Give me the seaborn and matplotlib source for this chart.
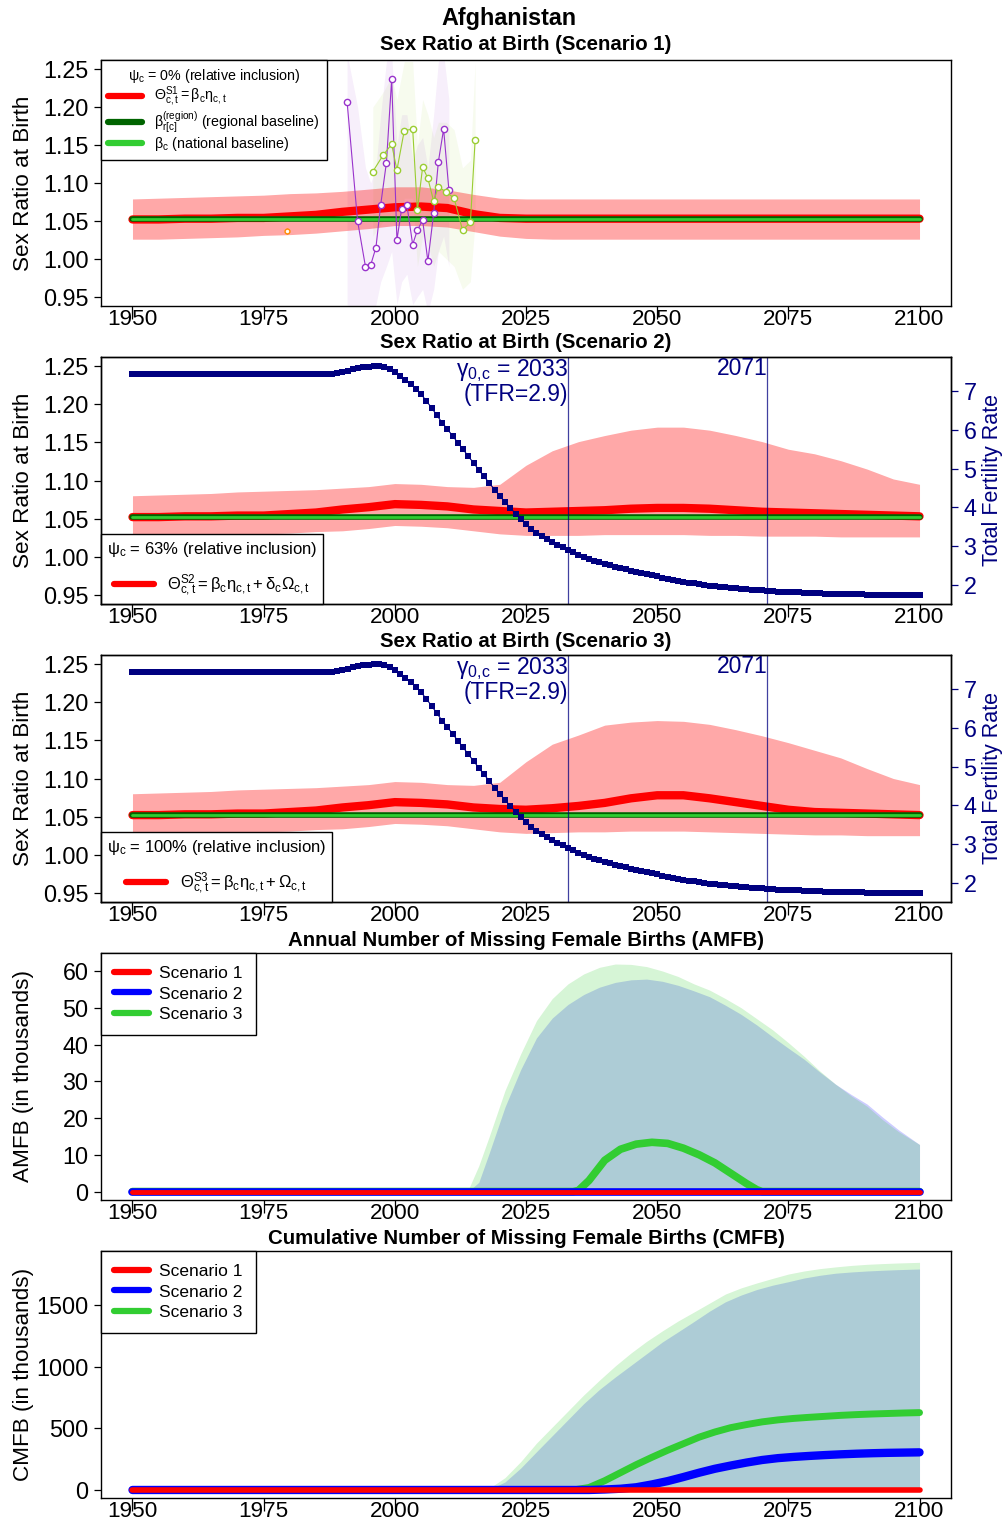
import numpy as np
import pandas as pd
import matplotlib
matplotlib.use("Agg")
import matplotlib.pyplot as plt
import seaborn as sns
from matplotlib.lines import Line2D

# ---------------------------------------------------------------- data
country = "Afghanistan"
xticks = [1950, 1975, 2000, 2025, 2050, 2075, 2100]

yrs5 = list(range(1950, 2101, 5))

# Scenario 1 SRB (median, 95% bounds)
s1_med = [1.052, 1.052, 1.053, 1.053, 1.054, 1.054, 1.056, 1.058, 1.062, 1.065, 1.068,
          1.069, 1.067, 1.059, 1.054, 1.053, 1.053, 1.053, 1.053, 1.053, 1.053, 1.053,
          1.053, 1.053, 1.053, 1.053, 1.053, 1.053, 1.053, 1.053, 1.053]
s1_lo = [1.026, 1.026, 1.027, 1.028, 1.029, 1.031, 1.032, 1.034, 1.037, 1.040, 1.044,
         1.044, 1.042, 1.036, 1.030, 1.027, 1.026, 1.026, 1.026, 1.026, 1.026, 1.026,
         1.026, 1.026, 1.026, 1.026, 1.026, 1.026, 1.026, 1.026, 1.026]
s1_hi = [1.079, 1.080, 1.081, 1.082, 1.083, 1.084, 1.086, 1.087, 1.089, 1.092, 1.095,
         1.095, 1.091, 1.085, 1.080, 1.079, 1.079, 1.079, 1.079, 1.079, 1.079, 1.079,
         1.079, 1.079, 1.079, 1.079, 1.079, 1.079, 1.079, 1.079, 1.079]

# Scenario 2 SRB
s2_med = [1.052, 1.052, 1.053, 1.053, 1.054, 1.054, 1.056, 1.058, 1.062, 1.065, 1.069,
          1.068, 1.066, 1.062, 1.060, 1.058, 1.059, 1.060, 1.061, 1.063, 1.064, 1.064,
          1.063, 1.061, 1.059, 1.058, 1.057, 1.056, 1.055, 1.054, 1.053]
s2_lo = [1.026, 1.026, 1.027, 1.028, 1.029, 1.030, 1.031, 1.033, 1.034, 1.037, 1.041,
         1.040, 1.038, 1.034, 1.030, 1.028, 1.028, 1.028, 1.029, 1.029, 1.029, 1.029,
         1.028, 1.028, 1.027, 1.027, 1.027, 1.026, 1.026, 1.026, 1.026]
s2_hi = [1.080, 1.081, 1.082, 1.083, 1.085, 1.086, 1.087, 1.088, 1.090, 1.092, 1.096,
         1.095, 1.092, 1.091, 1.095, 1.120, 1.139, 1.151, 1.159, 1.166, 1.170, 1.170,
         1.166, 1.159, 1.151, 1.141, 1.135, 1.126, 1.115, 1.102, 1.095]

# Scenario 3 SRB
s3_med = [1.052, 1.052, 1.053, 1.053, 1.054, 1.054, 1.056, 1.058, 1.062, 1.065, 1.069,
          1.068, 1.066, 1.062, 1.060, 1.059, 1.061, 1.064, 1.068, 1.074, 1.078, 1.078,
          1.074, 1.069, 1.064, 1.059, 1.056, 1.055, 1.054, 1.053, 1.052]
s3_lo = [1.026, 1.026, 1.027, 1.028, 1.029, 1.030, 1.031, 1.033, 1.034, 1.037, 1.041,
         1.040, 1.038, 1.034, 1.030, 1.028, 1.029, 1.030, 1.030, 1.031, 1.031, 1.031,
         1.030, 1.029, 1.028, 1.027, 1.026, 1.026, 1.025, 1.025, 1.025]
s3_hi = [1.080, 1.081, 1.082, 1.083, 1.085, 1.086, 1.087, 1.088, 1.090, 1.092, 1.096,
         1.095, 1.092, 1.091, 1.095, 1.122, 1.145, 1.157, 1.170, 1.174, 1.176, 1.175,
         1.171, 1.164, 1.156, 1.147, 1.137, 1.127, 1.113, 1.100, 1.092]

beta_region = 1.0525
beta_national = 1.0525

# observed SRB series (survey data)
obs1_years = [1990.9, 1992.9, 1994.4, 1995.4, 1996.4, 1997.3, 1998.4, 1999.4, 2000.4, 2001.3,
              2002.3, 2003.4, 2004.3, 2005.3, 2006.3, 2007.4, 2008.3, 2009.3, 2010.3]
obs1_srb = [1.207, 1.050, 0.990, 0.992, 1.015, 1.071, 1.127, 1.237, 1.025, 1.066,
            1.071, 1.019, 1.038, 1.051, 0.997, 1.060, 1.128, 1.171, 1.091]
obs1_lo = [0.94, 0.93, 0.93, 0.93, 0.94, 0.97, 0.99, 1.01, 0.94, 0.97,
           0.98, 0.94, 0.95, 0.96, 0.93, 0.96, 1.01, 1.03, 0.99]
obs1_hi = [1.27, 1.20, 1.12, 1.10, 1.12, 1.19, 1.26, 1.27, 1.15, 1.19,
           1.19, 1.13, 1.15, 1.16, 1.12, 1.19, 1.26, 1.27, 1.21]

obs2_years = [1995.8, 1997.8, 1999.4, 2000.4, 2001.8, 2003.4, 2004.3, 2005.3, 2006.3, 2007.4,
              2008.3, 2009.8, 2011.3, 2012.9, 2014.4, 2015.3]
obs2_srb = [1.115, 1.137, 1.151, 1.117, 1.169, 1.171, 1.064, 1.121, 1.106, 1.076,
            1.095, 1.088, 1.080, 1.038, 1.048, 1.156]
obs2_lo = [1.03, 1.05, 1.06, 1.03, 1.08, 1.08, 0.99, 1.03, 1.02, 0.99,
           1.01, 1.00, 0.99, 0.96, 0.97, 1.05]
obs2_hi = [1.20, 1.22, 1.24, 1.21, 1.26, 1.26, 1.15, 1.21, 1.19, 1.16,
           1.18, 1.18, 1.17, 1.12, 1.13, 1.26]

obs3_year = [1979.4]
obs3_srb = [1.037]
obs3_err = [0.004]

# Total fertility rate, annual 1950-2100
tfr_years = list(range(1950, 2101))
tfr = ([7.45] * 39 + [7.48] +
       [7.50, 7.53, 7.56, 7.59, 7.61, 7.63, 7.64, 7.64, 7.61, 7.56] +
       [7.49, 7.40, 7.29, 7.18, 7.06, 6.92, 6.75, 6.57, 6.38, 6.19] +
       [6.02, 5.85, 5.67, 5.50, 5.32, 5.15, 4.97, 4.80, 4.63, 4.46] +
       [4.30, 4.14, 3.99, 3.84, 3.70, 3.57, 3.45, 3.35, 3.26, 3.18] +
       [3.11, 3.04, 2.97, 2.90, 2.84, 2.78, 2.73, 2.68, 2.63, 2.59] +
       [2.55, 2.51, 2.47, 2.44, 2.40, 2.37, 2.34, 2.31, 2.28, 2.25] +
       [2.22, 2.19, 2.16, 2.13, 2.10, 2.08, 2.06, 2.04, 2.02, 2.00] +
       [1.98, 1.97, 1.95, 1.94, 1.92, 1.91, 1.90, 1.89, 1.88, 1.87] +
       [1.86, 1.85, 1.84, 1.83, 1.83, 1.82, 1.81, 1.81, 1.80, 1.80] +
       [1.79, 1.79, 1.78, 1.78, 1.77, 1.77, 1.77, 1.76, 1.76, 1.76] +
       [1.75, 1.75, 1.75, 1.75, 1.75, 1.74, 1.74, 1.74, 1.74, 1.74] +
       [1.74])
gamma_year = 2033
gamma_tfr = 2.9
end_year = 2071

# AMFB (thousands)
amfb_years = [1950, 2014, 2016, 2018, 2021, 2024, 2027, 2030, 2033, 2036, 2039, 2042, 2045,
              2048, 2051, 2054, 2057, 2060, 2063, 2066, 2069, 2072, 2075, 2078, 2081, 2084,
              2087, 2090, 2093, 2096, 2100]
amfb_s3_hi = [0, 0.5, 7.0, 15.0, 27.5, 37.5, 46.5, 52.5, 56.5, 59.2, 61.0, 61.9, 61.8,
              61.2, 60.0, 58.5, 56.5, 54.8, 52.5, 50.0, 47.0, 44.0, 40.5, 36.8, 32.8, 29.2,
              26.0, 23.2, 19.5, 16.3, 12.8]
amfb_s2_hi = [0, 0, 2.5, 10.5, 23.0, 33.2, 41.8, 47.2, 50.9, 53.6, 55.6, 56.9, 57.6,
              57.8, 57.2, 56.1, 54.6, 53.0, 50.7, 48.2, 45.3, 42.1, 39.0, 36.0, 32.5, 29.2,
              26.4, 23.8, 20.2, 16.8, 12.8]
amfb_s3_years = [1950, 2034, 2035, 2037, 2040, 2043, 2046, 2049, 2052, 2055, 2058, 2061,
                 2064, 2067, 2069, 2070, 2100]
amfb_s3_med = [0, 0, 0.3, 3.0, 8.5, 11.5, 12.9, 13.4, 13.1, 11.8, 10.0, 7.8, 5.0, 2.2, 0.5, 0, 0]
amfb_s12_years = [1950, 2100]
amfb_s1_med = [0, 0]
amfb_s2_med = [0, 0]

# CMFB (thousands)
cmfb_years = [1950, 2016, 2018, 2021, 2024, 2027, 2030, 2033, 2036, 2039, 2042, 2045, 2048,
              2051, 2054, 2057, 2060, 2063, 2066, 2069, 2072, 2075, 2078, 2081, 2084, 2087,
              2090, 2093, 2096, 2100]
cmfb_s3_hi = [0, 2, 14, 100, 230, 380, 510, 640, 770, 890, 1005, 1110, 1205, 1290, 1370,
              1442, 1515, 1588, 1638, 1678, 1715, 1750, 1775, 1794, 1808, 1820, 1829, 1835,
              1840, 1845]
cmfb_s2_hi = [0, 0, 5, 65, 178, 310, 440, 570, 700, 815, 915, 1010, 1105, 1200, 1282, 1365,
              1450, 1525, 1580, 1625, 1660, 1688, 1718, 1740, 1757, 1767, 1775, 1781, 1786,
              1791]
cmfb_med_years = [1950, 2034, 2037, 2040, 2043, 2046, 2049, 2052, 2055, 2058, 2061, 2064,
                  2067, 2070, 2073, 2076, 2079, 2082, 2085, 2088, 2091, 2094, 2097, 2100]
cmfb_s3_med = [0, 0, 20, 75, 140, 205, 265, 322, 375, 428, 470, 505, 530, 552, 568, 580, 589,
               597, 605, 611, 616, 620, 624, 627]
cmfb_s2_med = [0, 0, 0, 4, 10, 22, 45, 72, 105, 140, 172, 198, 222, 243, 258, 268, 276, 283,
               289, 294, 298, 301, 303, 305]
cmfb_s1_med = [0] * len(cmfb_med_years)

# ---------------------------------------------------------------- style
sns.set_theme(style="ticks")
plt.rcParams["font.family"] = ["Liberation Sans", "DejaVu Sans"]
plt.rcParams["mathtext.fontset"] = "custom"
plt.rcParams["mathtext.rm"] = "Liberation Sans"
plt.rcParams["mathtext.it"] = "Liberation Sans:italic"
plt.rcParams["mathtext.bf"] = "Liberation Sans:bold"
plt.rcParams["mathtext.default"] = "regular"
plt.rcParams["axes.edgecolor"] = "black"
plt.rcParams["text.color"] = "black"
plt.rcParams["axes.labelcolor"] = "black"
plt.rcParams["xtick.color"] = "black"
plt.rcParams["ytick.color"] = "black"

W, H = 1008, 1524
fig = plt.figure(figsize=(W / 100, H / 100), dpi=100)


def make_axes(top, bottom):
    return fig.add_axes([101 / W, 1 - bottom / H, 850 / W, (bottom - top) / H])


def style(ax, ylabel):
    ax.set_xlim(1944, 2106)
    ax.set_xticks(xticks)
    ax.set_xticklabels([str(t) for t in xticks])
    ax.tick_params(axis="x", direction="out", length=9, width=0.9, pad=-6.5,
                   labelsize=16.2, colors="black")
    ax.tick_params(axis="y", direction="out", length=5, width=0.9, pad=4,
                   labelsize=16.8, colors="black")
    for s in ax.spines.values():
        s.set_visible(True)
        s.set_color("black")
        s.set_linewidth(1.0)
    ax.set_ylabel(ylabel, fontsize=16.2, color="black")
    ax.yaxis.set_label_coords(-0.079, 0.5)
    ax.set_xlabel("")


def panel_title(y, text):
    fig.text(526 / W, 1 - y / H, text, ha="center", va="center",
             fontsize=14.7, fontweight="bold", color="black")


fig.text(509 / W, 1 - 18 / H, country, ha="center", va="center",
         fontsize=16.8, fontweight="bold", color="black")

RED_BAND = dict(color="red", alpha=0.34, lw=0)


def srb_panel(ax, med, lo, hi):
    ax.fill_between(yrs5, lo, hi, **RED_BAND)
    sns.lineplot(x=yrs5, y=med, ax=ax, color="red", lw=6, solid_capstyle="round")
    sns.lineplot(x=[1950, 2100], y=[beta_region, beta_region], ax=ax, color="darkgreen",
                 lw=4, solid_capstyle="round")
    sns.lineplot(x=[1950, 2100], y=[beta_national, beta_national], ax=ax,
                 color="limegreen", lw=2, solid_capstyle="round")
    ax.set_ylim(0.938, 1.262)
    ax.set_yticks([0.95, 1.00, 1.05, 1.10, 1.15, 1.20, 1.25])
    ax.set_yticklabels(["0.95", "1.00", "1.05", "1.10", "1.15", "1.20", "1.25"])


leg_kw = dict(borderaxespad=0, frameon=True, fancybox=False, edgecolor="black",
              framealpha=1)

# ---------------- panel 1
ax1 = make_axes(60, 306)
PURPLE, YG = "#9933CC", "#9ACD32"
ax1.fill_between(obs1_years, obs1_lo, obs1_hi, color=PURPLE, alpha=0.08, lw=0)
ax1.fill_between(obs2_years, obs2_lo, obs2_hi, color=YG, alpha=0.08, lw=0)
srb_panel(ax1, s1_med, s1_lo, s1_hi)
sns.lineplot(x=obs1_years, y=obs1_srb, ax=ax1, color=PURPLE, lw=0.8, marker="o",
             markersize=4.5, markerfacecolor="white", markeredgecolor=PURPLE,
             markeredgewidth=1)
sns.lineplot(x=obs2_years, y=obs2_srb, ax=ax1, color=YG, lw=0.8, marker="o",
             markersize=4.5, markerfacecolor="white", markeredgecolor=YG,
             markeredgewidth=1)
ax1.errorbar(obs3_year, obs3_srb, yerr=obs3_err, fmt="o", ms=3.5, color="darkorange",
             mfc="white", mew=1, elinewidth=0.8)
style(ax1, "Sex Ratio at Birth")
h1 = [Line2D([], [], color="red", lw=4.5),
      Line2D([], [], color="darkgreen", lw=4.5),
      Line2D([], [], color="limegreen", lw=4.5)]
l1 = [r"$\Theta^{S1}_{c,t} = \beta_c\eta_{c,t}$",
      r"$\beta^{(region)}_{r[c]}$ (regional baseline)",
      r"$\beta_c$ (national baseline)"]
ax1.legend(h1, l1, title=r"$\psi_c$ = 0% (relative inclusion)", loc="upper left",
           handlelength=2.4, labelspacing=0.0, fontsize=10.3, title_fontsize=10.3,
           borderpad=0.5, **leg_kw)
panel_title(45, "Sex Ratio at Birth (Scenario 1)")


# ---------------- panels 2, 3
def tfr_panel(ax, med, lo, hi, psi, formula):
    srb_panel(ax, med, lo, hi)
    style(ax, "Sex Ratio at Birth")
    ax.axvline(gamma_year, color="navy", lw=0.9, alpha=0.75)
    ax.axvline(end_year, color="navy", lw=0.9, alpha=0.75)
    tr = ax.get_xaxis_transform()
    ax.text(gamma_year, 1.0, r"$\gamma_{0,\!c}$ = %d" % gamma_year + "\n(TFR=%.1f)" % gamma_tfr,
            transform=tr, ha="right", va="top", color="navy", fontsize=16.5,
            linespacing=0.95, multialignment="right")
    ax.text(end_year, 1.0, "%d" % end_year, transform=tr, ha="right", va="top",
            color="navy", fontsize=16.5)
    tw = ax.twinx()
    sns.lineplot(x=tfr_years, y=tfr, ax=tw, color="navy", lw=0.8, marker="s",
                 markersize=3.8, markeredgewidth=0, markerfacecolor="navy")
    tw.set_ylim(1.51, 7.88)
    tw.set_yticks([2, 3, 4, 5, 6, 7])
    tw.set_yticklabels(["2", "3", "4", "5", "6", "7"])
    tw.tick_params(axis="y", direction="out", length=5, width=0.9, pad=4, labelsize=16.8,
                   colors="navy")
    tw.set_ylabel("Total Fertility Rate", fontsize=15.5, color="navy")
    tw.yaxis.set_label_coords(1.036, 0.5)
    for s in tw.spines.values():
        s.set_color("black")
        s.set_linewidth(1.0)
    leg = ax.legend([Line2D([], [], color="red", lw=4.5)], [formula],
                    title=r"$\psi_c$ = %s (relative inclusion)" % psi, loc="lower left",
                    handlelength=2.4, fontsize=12.0, title_fontsize=12.0, borderpad=0.35,
                    labelspacing=0.8, **leg_kw)
    leg.set_zorder(10)
    return tw


ax2 = make_axes(357, 604)
tw2 = tfr_panel(ax2, s2_med, s2_lo, s2_hi, "63%",
                r"$\Theta^{S2}_{c,t} = \beta_c\eta_{c,t} + \delta_c\Omega_{c,t}$")
panel_title(343, "Sex Ratio at Birth (Scenario 2)")

ax3 = make_axes(655, 902)
tw3 = tfr_panel(ax3, s3_med, s3_lo, s3_hi, "100%",
                r"$\Theta^{S3}_{c,t} = \beta_c\eta_{c,t} + \Omega_{c,t}$")
panel_title(641, "Sex Ratio at Birth (Scenario 3)")

# ---------------- panel 4 (AMFB)
scen_handles = [Line2D([], [], color="red", lw=4.5),
                Line2D([], [], color="blue", lw=4.5),
                Line2D([], [], color="limegreen", lw=4.5)]
scen_labels = ["Scenario 1", "Scenario 2", "Scenario 3"]
scen_leg = dict(loc="upper left", handlelength=2.0, handletextpad=0.6, labelspacing=0.3,
                borderpad=0.75, fontsize=12.5, **leg_kw)

ax4 = make_axes(953, 1200)
ax4.fill_between(amfb_years, 0, amfb_s2_hi, color="blue", alpha=0.2, lw=0)
ax4.fill_between(amfb_years, 0, amfb_s3_hi, color="limegreen", alpha=0.2, lw=0)
sns.lineplot(x=amfb_s3_years, y=amfb_s3_med, ax=ax4, color="limegreen", lw=5.5,
             solid_capstyle="round")
sns.lineplot(x=amfb_s12_years, y=amfb_s2_med, ax=ax4, color="blue", lw=5.5,
             solid_capstyle="round")
sns.lineplot(x=amfb_s12_years, y=amfb_s1_med, ax=ax4, color="red", lw=3.5,
             solid_capstyle="round")
ax4.set_ylim(-2.3, 64.9)
ax4.set_yticks([0, 10, 20, 30, 40, 50, 60])
style(ax4, "AMFB (in thousands)")
ax4.legend(scen_handles, scen_labels, **scen_leg)
panel_title(940, "Annual Number of Missing Female Births (AMFB)")

# ---------------- panel 5 (CMFB)
ax5 = make_axes(1251, 1498)
ax5.fill_between(cmfb_years, 0, cmfb_s2_hi, color="blue", alpha=0.2, lw=0)
ax5.fill_between(cmfb_years, 0, cmfb_s3_hi, color="limegreen", alpha=0.2, lw=0)
sns.lineplot(x=cmfb_med_years, y=cmfb_s3_med, ax=ax5, color="limegreen", lw=5,
             solid_capstyle="round")
sns.lineplot(x=cmfb_med_years, y=cmfb_s2_med, ax=ax5, color="blue", lw=6,
             solid_capstyle="round")
sns.lineplot(x=cmfb_med_years, y=cmfb_s1_med, ax=ax5, color="red", lw=4,
             solid_capstyle="round")
ax5.set_ylim(-65, 1937)
ax5.set_yticks([0, 500, 1000, 1500])
style(ax5, "CMFB (in thousands)")
ax5.legend(scen_handles, scen_labels, **scen_leg)
panel_title(1238, "Cumulative Number of Missing Female Births (CMFB)")

fig.savefig("out.png", dpi=100)
